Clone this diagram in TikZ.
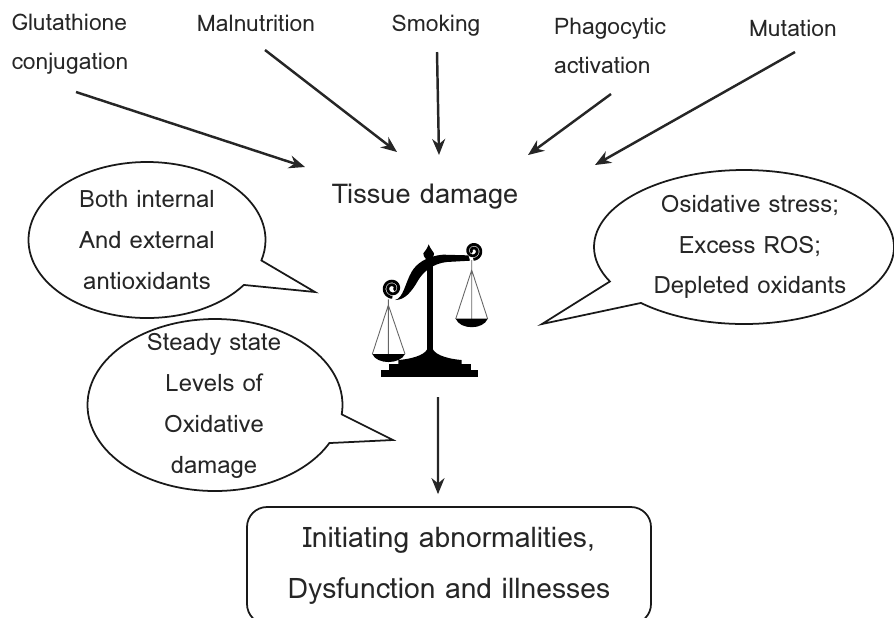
\documentclass[tikz,border=0pt]{standalone}
\usepackage{fontspec}
\setmainfont{Loma}
\usepackage{xcolor}
\usetikzlibrary{arrows.meta,positioning,shapes.callouts}
\begin{document}
\begin{tikzpicture}[>=Stealth,
 cause/.style={font=\fontsize{13}{22.5}\selectfont,align=left,inner sep=0pt,text=black!85},
 bubble/.style={ellipse callout,draw=black!90,line width=1pt,inner sep=0pt,callout pointer arc=20},
 bubtext/.style={font=\fontsize{13.6}{23.2}\selectfont,align=center,inner sep=0pt,text=black!85},
 arr/.style={->,line width=1.4pt,black!85,>={Stealth[length=3.2mm,width=2.6mm]}}]
\useasboundingbox (0,0) rectangle (17.88,-12.34);
\node[cause] (glut) at (1.4,-0.88) {Glutathione\\conjugation};
\node[cause] (maln) at (5.12,-0.46) {Malnutrition};
\node[cause] (smok) at (8.72,-0.52) {Smoking};
\node[cause] (phag) at (12.2,-0.92) {Phagocytic\\activation};
\node[cause] (muta) at (15.86,-0.56) {Mutation};
\node[cause,font=\fontsize{15.5}{17}\selectfont] (tissue) at (8.5,-3.94) {Tissue damage};
\node[bubble,minimum width=4.74cm,minimum height=3.12cm,callout absolute pointer={(6.3,-5.84)}] (inner) at (2.94,-4.8) {};
\node[bubble,minimum width=5.1cm,minimum height=3.44cm,callout absolute pointer={(7.86,-8.8)}] (steady) at (4.3,-8.1) {};
\node[bubble,minimum width=6.0cm,minimum height=3.08cm,callout absolute pointer={(10.84,-6.48)}] (excess) at (14.88,-4.94) {};
\node[bubtext] at (inner.center) (innertext) {Both internal\\And external\\antioxidants};
\node[bubtext] at (4.28,-8.12) (steadytext) {Steady state\\Levels of\\Oxidative\\damage};
\node[bubtext] at (15,-4.94) (excesstext) {Osidative stress;\\Excess ROS;\\Depleted oxidants};
\node[draw=black!90,line width=1pt,rounded corners=4mm,minimum width=8.08cm,minimum height=2.34cm,align=center,
 font=\fontsize{16.1}{28.9}\selectfont,text=black!85,inner sep=0pt] (illness) at (8.98,-11.31) {Initiating abnormalities,\\Dysfunction and illnesses};
\coordinate (scalefoot) at (8.76,-7.94);
\draw[arr] ([xshift=0.12cm,yshift=-0.96cm]glut.center) -- ([xshift=-2.4cm,yshift=0.6cm]tissue.center);
\draw[arr] ([xshift=0.18cm,yshift=-0.54cm]maln.center) -- ([xshift=-0.56cm,yshift=0.9cm]tissue.center);
\draw[arr] ([xshift=0.02cm,yshift=-0.52cm]smok.center) -- ([xshift=0.28cm,yshift=0.84cm]tissue.center);
\draw[arr] ([xshift=0.02cm,yshift=-0.96cm]phag.center) -- ([xshift=2.06cm,yshift=0.84cm]tissue.center);
\draw[arr] ([xshift=0.04cm,yshift=-0.48cm]muta.center) -- ([xshift=3.4cm,yshift=0.64cm]tissue.center);
\draw[arr] (scalefoot) -- ([xshift=-0.22cm,yshift=0.24cm]illness.north);
\begin{scope}[shift={(6.8,-4.4)},x=0.006667cm,y=-0.006667cm]
\fill (250,100) .. controls (256,92) and (262,85) .. (266,73) .. controls (270,85) and (278,92) .. (282,100) .. controls (282,110) and (274,118) .. (266,125) .. controls (258,118) and (250,110) .. (250,100) -- cycle;
\fill (262,110) rectangle (278,400);
\fill (165,240) .. controls (190,235) and (195,190) .. (215,155) .. controls (230,130) and (260,108) .. (310,104) -- (385,106) -- (390,122) -- (320,126) .. controls (280,130) and (250,155) .. (235,180) .. controls (215,215) and (195,240) .. (165,240) -- cycle;
\draw[line width=1.6pt] plot[domain=0:680,samples=70,smooth] ({157+(27-0.03*\x)*cos(90+\x)},{205+(27-0.03*\x)*sin(90+\x)});
\draw[line width=1.6pt] plot[domain=0:680,samples=70,smooth] ({400+(25-0.03*\x)*cos(90-\x)},{93+(25-0.03*\x)*sin(90-\x)});
\draw[black!60,line width=0.5pt] (145,238) -- (145,405) (145,255) -- (97,402) (145,255) -- (195,402);
\draw[black!60,line width=0.5pt] (395,120) -- (395,297) (395,150) -- (347,297) (395,150) -- (443,297);
\fill (97,402) .. controls (110,434) and (180,434) .. (195,402) -- cycle;
\fill (347,296) .. controls (360,330) and (430,330) .. (443,296) -- cycle;
\fill (123,450) rectangle (415,472);
\fill (147,432) rectangle (393,451);
\fill (175,420) .. controls (230,415) and (262,400) .. (264,380) -- (276,380) .. controls (278,400) and (310,415) .. (365,420) -- (365,433) -- (175,433) -- cycle;
\end{scope}
\end{tikzpicture}
\end{document}
